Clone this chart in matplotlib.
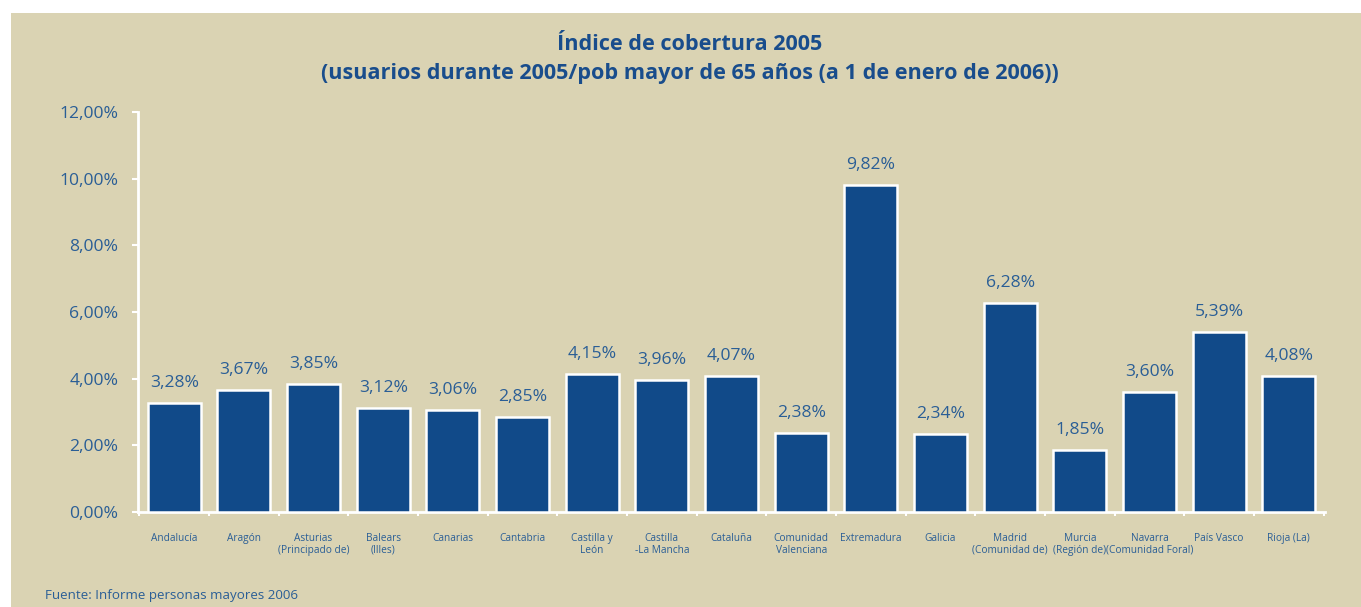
import matplotlib
matplotlib.use("Agg")
import matplotlib.pyplot as plt
from matplotlib.patches import Rectangle
from matplotlib.ticker import FixedLocator

categories = ["Andalucía", "Aragón", "Asturias\n(Principado de)", "Balears\n(Illes)",
              "Canarias", "Cantabria", "Castilla y\nLeón", "Castilla\n-La Mancha",
              "Cataluña", "Comunidad\nValenciana", "Extremadura", "Galicia",
              "Madrid\n(Comunidad de)", "Murcia\n(Región de)", "Navarra\n(Comunidad Foral)",
              "País Vasco", "Rioja (La)"]
values = [3.28, 3.67, 3.85, 3.12, 3.06, 2.85, 4.15, 3.96, 4.07, 2.38, 9.82, 2.34,
          6.28, 1.85, 3.60, 5.39, 4.08]
yticks = [0, 2, 4, 6, 8, 10, 12]

BG = "#DAD3B3"
BAR = "#114A89"
TXT = "#2A5E96"
TITLE = "#194D8C"

plt.rcParams['font.family'] = ['Open Sans', 'DejaVu Sans']

fig = plt.figure(figsize=(13.61, 6.07), dpi=100, facecolor="white")
fig.patches.append(Rectangle((11 / 1361, 0), 1 - 11 / 1361, 1 - 13 / 607,
                             transform=fig.transFigure, facecolor=BG,
                             edgecolor="none", zorder=-10))

ax = fig.add_axes([138 / 1361, 1 - 512 / 607, (1325 - 138) / 1361, 400 / 607])
ax.set_facecolor("none")
x = list(range(len(categories)))
ax.bar(x, values, width=0.76, color=BAR, edgecolor="white", linewidth=1.8, zorder=3)

for xi, v in zip(x, values):
    ax.text(xi, v + 0.36, f"{v:.2f}%".replace(".", ","), ha="center", va="bottom",
            fontsize=12.6, color=TXT)

ax.set_xlim(-0.52, 16.52)
ax.set_ylim(0, 12)
ax.set_yticks(yticks)
ax.set_yticklabels([f"{t:.2f}%".replace(".", ",") for t in yticks], fontsize=12.6,
                   color=TXT)
ax.tick_params(axis="y", length=4, width=1.5, color="white", pad=10)

ax.set_xticks(x)
ax.set_xticklabels(categories, fontsize=7.3, color=TXT, linespacing=1.1)
ax.tick_params(axis="x", which="major", length=0, pad=15)
ax.xaxis.set_minor_locator(FixedLocator([i - 0.5 for i in range(len(categories) + 1)]))
ax.tick_params(axis="x", which="minor", length=3, width=1.5, color="white")

for s in ["top", "right"]:
    ax.spines[s].set_visible(False)
for s in ["left", "bottom"]:
    ax.spines[s].set_color("white")
    ax.spines[s].set_linewidth(2)

fig.text(0.507, 1 - 44 / 607, "Índice de cobertura 2005", ha="center", va="center",
         fontsize=15.6, fontweight="bold", color=TITLE)
fig.text(0.507, 1 - 73 / 607, "(usuarios durante 2005/pob mayor de 65 años (a 1 de enero de 2006))",
         ha="center", va="center", fontsize=15.6, fontweight="bold", color=TITLE)
fig.text(45 / 1361, 1 - 595 / 607, "Fuente: Informe personas mayores 2006", ha="left",
         va="center", fontsize=9.6, color=TXT)

fig.savefig("out.png", dpi=100, facecolor="white")
